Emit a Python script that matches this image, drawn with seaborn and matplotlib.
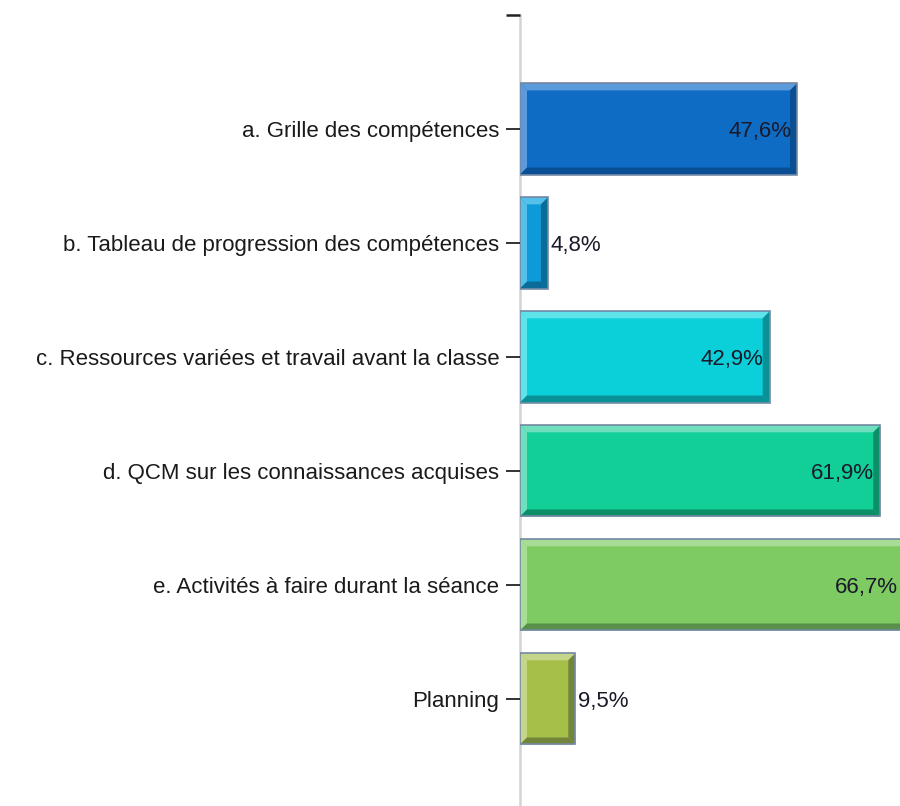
import matplotlib
matplotlib.use("Agg")
import matplotlib.pyplot as plt
import seaborn as sns
import pandas as pd
from matplotlib.patches import Polygon

categories = [
    "a. Grille des compétences",
    "b. Tableau de progression des compétences",
    "c. Ressources variées et travail avant la classe",
    "d. QCM sur les connaissances acquises",
    "e. Activités à faire durant la séance",
    "Planning",
]
values = [47.6, 4.8, 42.9, 61.9, 66.7, 9.5]
value_labels = ["47,6%", "4,8%", "42,9%", "61,9%", "66,7%", "9,5%"]

main_colors = ["#0F6CC5", "#0E9AD8", "#0BCFD9", "#12CE97", "#7DCB62", "#A6BF48"]
light_colors = ["#5C9BDB", "#55C0EA", "#5FE3EA", "#6EE0BE", "#A7DD95", "#C5D68A"]
dark_colors = ["#0A4E93", "#0B6C99", "#0A9198", "#0C8F69", "#58904A", "#73853A"]

sns.set_theme(style="white")
plt.rcParams["font.family"] = ["Liberation Sans", "DejaVu Sans"]

df = pd.DataFrame({"category": categories, "value": values})

fig = plt.figure(figsize=(9, 8.06), dpi=100)
ax = fig.add_axes([520 / 900, 0, 1 - 520 / 900, (806 - 15) / 806])

sns.barplot(data=df, x="value", y="category", hue="category",
            palette=main_colors, saturation=1, legend=False, width=0.8, orient="h",
            edgecolor="none", linewidth=0, ax=ax)

ax.set_xlim(0, 380 / 5.82)
ax.set_ylim(5.94, -1)
ax.set_xlabel("")
ax.set_ylabel("")
ax.set_xticks([])

for s in ["top", "right", "bottom"]:
    ax.spines[s].set_visible(False)
ax.spines["left"].set_color("#d4d4d4")
ax.spines["left"].set_linewidth(1.8)
ax.spines["left"].set_zorder(0.5)

ax.tick_params(axis="y", which="major", length=10, width=1.3, color="#222222",
               pad=5, labelsize=16, labelcolor="#1a1a1a", left=True)
ax.set_yticks([-1], minor=True)
ax.tick_params(axis="y", which="minor", length=10, width=1.8, color="#222222", left=True)

fig.canvas.draw()
p0 = ax.transData.transform((0, 0))
p1 = ax.transData.transform((1, 1))
px_x = abs(p1[0] - p0[0])
px_y = abs(p1[1] - p0[1])
bw = 7.0
bx = bw / px_x
by = bw / px_y
xmax = ax.get_xlim()[1]

patches = sorted(ax.patches, key=lambda p: p.get_y())
for i, p in enumerate(patches):
    x0 = p.get_x()
    x1 = x0 + p.get_width()
    yt = p.get_y()
    yb = yt + p.get_height()
    bxx = min(bx, (x1 - x0) / 2.5)
    top = [(x0, yt), (x1, yt), (x1 - bxx, yt + by), (x0 + bxx, yt + by)]
    left = [(x0, yt), (x0 + bxx, yt + by), (x0 + bxx, yb - by), (x0, yb)]
    bottom = [(x0, yb), (x1, yb), (x1 - bxx, yb - by), (x0 + bxx, yb - by)]
    right = [(x1, yt), (x1, yb), (x1 - bxx, yb - by), (x1 - bxx, yt + by)]
    for poly, col in [(top, light_colors[i]), (left, light_colors[i]),
                      (bottom, dark_colors[i]), (right, dark_colors[i])]:
        ax.add_patch(Polygon(poly, closed=True, facecolor=col, edgecolor="none",
                             zorder=3, clip_on=True))
    ax.add_patch(Polygon([(x0, yt), (x1, yt), (x1, yb), (x0, yb)], closed=True,
                         facecolor="none", edgecolor="#7589A3", linewidth=1.2,
                         zorder=4, clip_on=True))

    v = values[i]
    yc = (yt + yb) / 2
    if v > 20:
        anchor = min(x1, xmax)
        off = -6 if x1 <= xmax else -2
        ax.annotate(value_labels[i], xy=(anchor, yc), xytext=(off, 0),
                    textcoords="offset pixels", ha="right", va="center_baseline",
                    fontsize=16, color="#1a1a2a", zorder=5, annotation_clip=False)
    else:
        ax.annotate(value_labels[i], xy=(x1, yc), xytext=(3, 0),
                    textcoords="offset pixels", ha="left", va="center_baseline",
                    fontsize=16, color="#1a1a2a", zorder=5, annotation_clip=False)

fig.savefig("out.png", dpi=100, facecolor="white")
